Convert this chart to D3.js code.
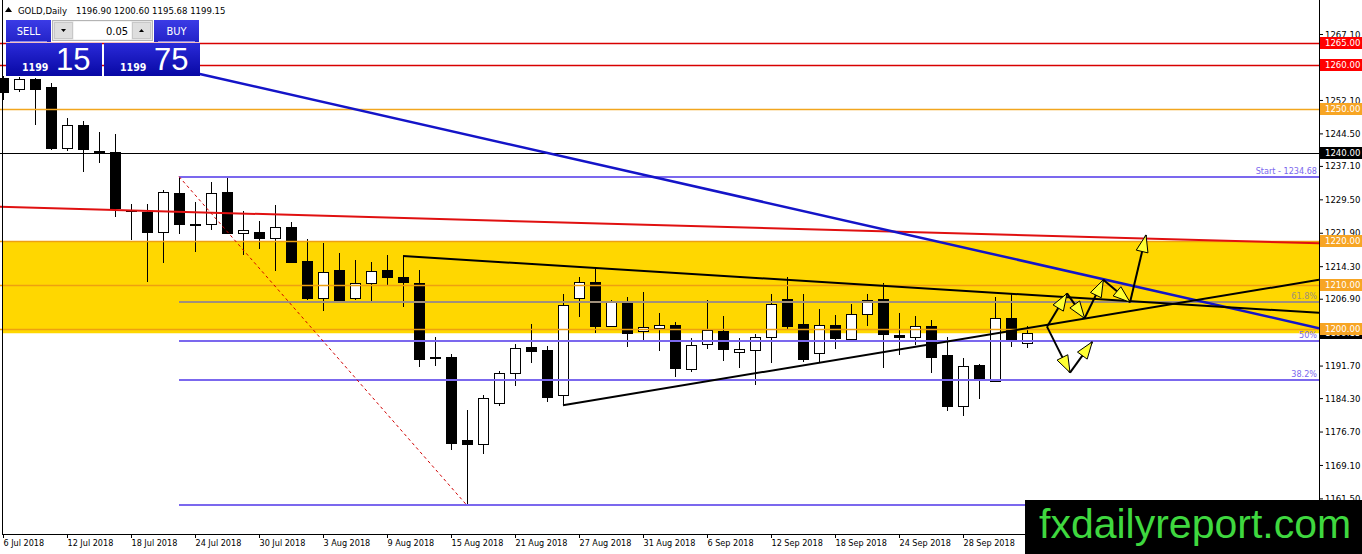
<!DOCTYPE html>
<html>
<head>
<meta charset="utf-8">
<title>GOLD, Daily</title>
<script src="https://cdnjs.cloudflare.com/ajax/libs/d3/7.8.5/d3.min.js"></script>
<style>
  html, body { margin: 0; padding: 0; background: #fff; overflow: hidden; }
  svg { display: block; font-family: "DejaVu Sans Condensed", "DejaVu Sans", sans-serif; font-stretch: condensed; }
</style>
</head>
<body>
<div id="chart"></div>
<script>

// daily candles, bar 0 = 6 Jul 2018, bar 64 = 4 Oct 2018
var opens  = [1257.1, 1254.6, 1256.9, 1255.1, 1241.1, 1246.4, 1240.4, 1240.2, 1227.0, 1226.6,
              1222.1, 1230.9, 1223.9, 1223.8, 1231.1, 1221.9, 1222.1, 1220.8, 1223.1, 1215.5,
              1207.1, 1213.4, 1207.0, 1210.4, 1213.4, 1211.8, 1210.4, 1193.6, 1193.7, 1174.8,
              1173.8, 1183.1, 1189.9, 1195.9, 1195.2, 1185.0, 1207.0, 1210.8, 1200.6, 1206.2,
              1199.6, 1200.2, 1200.9, 1190.9, 1196.6, 1199.6, 1194.7, 1195.2, 1198.1, 1206.8,
              1201.2, 1194.5, 1200.9, 1197.7, 1203.4, 1206.8, 1198.7, 1198.3, 1200.7, 1194.1,
              1182.4, 1191.8, 1188.2, 1202.6, 1196.90];
var highs  = [1257.6, 1257.3, 1257.1, 1256.0, 1247.9, 1247.3, 1244.9, 1244.4, 1228.4, 1228.4,
              1231.6, 1234.68, 1229.0, 1233.4, 1234.3, 1226.8, 1224.6, 1228.1, 1224.3, 1220.4,
              1219.6, 1217.4, 1215.7, 1215.3, 1216.8, 1216.6, 1213.4, 1198.1, 1194.3, 1181.6,
              1184.9, 1190.5, 1196.6, 1201.2, 1196.2, 1208.0, 1211.9, 1213.8, 1206.6, 1207.4,
              1208.5, 1203.6, 1201.7, 1197.9, 1206.6, 1203.0, 1197.9, 1198.9, 1208.0, 1211.9,
              1208.0, 1204.5, 1203.2, 1205.6, 1208.0, 1210.4, 1203.6, 1203.0, 1202.1, 1198.1,
              1193.4, 1192.1, 1207.2, 1207.9, 1200.60];
var lows   = [1252.1, 1253.9, 1246.4, 1240.7, 1240.6, 1235.8, 1237.7, 1225.4, 1220.3, 1210.8,
              1215.1, 1221.6, 1217.6, 1222.5, 1221.8, 1216.8, 1218.2, 1213.3, 1215.1, 1206.6,
              1204.0, 1206.5, 1206.6, 1205.9, 1210.0, 1205.1, 1191.3, 1191.5, 1172.5, 1159.9,
              1171.6, 1182.5, 1187.1, 1192.2, 1183.5, 1182.7, 1202.7, 1199.2, 1200.4, 1195.9,
              1197.5, 1195.1, 1189.2, 1190.3, 1195.4, 1192.8, 1191.1, 1187.3, 1192.2, 1199.8,
              1192.4, 1192.5, 1195.4, 1197.7, 1200.7, 1191.2, 1194.1, 1196.4, 1190.1, 1181.4,
              1180.3, 1184.1, 1188.1, 1196.0, 1195.68];
var closes = [1253.9, 1256.9, 1254.6, 1241.1, 1246.4, 1240.9, 1240.0, 1227.5, 1226.8, 1222.1,
              1231.1, 1223.8, 1223.7, 1230.9, 1221.9, 1222.5, 1220.8, 1223.1, 1215.3, 1207.1,
              1212.9, 1206.6, 1210.4, 1213.2, 1211.8, 1210.8, 1193.1, 1193.5, 1174.2, 1173.8,
              1184.3, 1189.9, 1195.6, 1194.9, 1184.6, 1205.5, 1210.6, 1200.6, 1206.2, 1199.2,
              1200.4, 1200.9, 1191.1, 1196.4, 1199.8, 1195.4, 1195.5, 1198.1, 1205.7, 1200.7,
              1193.1, 1200.9, 1197.9, 1203.4, 1206.5, 1198.8, 1198.1, 1200.7, 1193.7, 1182.4,
              1191.6, 1188.7, 1202.5, 1197.3, 1199.15];

// time axis
var dateBars   = [0, 4, 8, 12, 16, 20, 24, 28, 32, 36, 40, 44, 48, 52, 56, 60];
var dateLabels = ["6 Jul 2018", "12 Jul 2018", "18 Jul 2018", "24 Jul 2018", "30 Jul 2018",
                  "3 Aug 2018", "9 Aug 2018", "15 Aug 2018", "21 Aug 2018", "27 Aug 2018",
                  "31 Aug 2018", "6 Sep 2018", "12 Sep 2018", "18 Sep 2018", "24 Sep 2018",
                  "28 Sep 2018"];

// price axis
var priceTicks = [1267.10, 1259.50, 1252.10, 1244.50, 1237.10, 1229.50, 1221.90, 1214.30,
                  1206.90, 1199.30, 1191.70, 1184.30, 1176.70, 1169.10, 1161.50];

// horizontal levels and the support / resistance zone
var levelPrices = [1265.00, 1260.00, 1250.00, 1240.00, 1220.00, 1210.00, 1200.00];
var zonePrices  = [1199.05, 1220.00];

// fibo retracement, from the high of bar 11 to the low of bar 29
var fibBars    = [11, 29];
var fibPrices  = [1234.68, 1159.90];
var fibRatios  = [0.618, 0.5, 0.382];
var fibLabels  = ["61.8%", "50%", "38.2%"];

// trendlines, [bar, price]
var redTrend   = [[-0.19, 1227.8], [82.25, 1219.5]];
var blueTrend  = [[12.3, 1258.0], [82.25, 1200.2]];
var upperTrend = [[25, 1216.6], [82.25, 1203.7]];
var lowerTrend = [[35, 1182.7], [82.25, 1211.2]];

// projected paths, [bar, price]
var arrowsUp   = [[65.25, 1200.55], [66.5, 1208.1], [67.6, 1202.45], [68.77, 1211.2], [70.44, 1206.1], [71.44, 1221.4]];
var arrowsDown = [[65.25, 1200.55], [66.69, 1190.1], [68.08, 1197.1]];

// quote header and trade panel
var symbolName = "GOLD,Daily";
var quoteNow   = ["1196.90", "1200.60", "1195.68", "1199.15"];
var lotSize    = "0.05";
var bidPrice   = ["1199", "15"];
var askPrice   = ["1199", "75"];

var W = 1362, H = 554,
    plotRight = 1319, plotBottom = 534;

function initChart() {

    // set the ranges
    var x = d3.scaleLinear().domain([0, 82.25]).range([3, plotRight]);
    var y = d3.scaleLinear().domain([1153.4, 1274.83]).range([plotBottom, 0]);

    function px(v) { return Math.round(v) + 0.5; }

    var bars = opens.map(function(o, i) {
        return {i: i, o: o, h: highs[i], l: lows[i], c: closes[i]};
    });

    var svg = d3.select("#chart").append("svg")
        .attr("width", W)
        .attr("height", H);

    svg.append("rect").attr("width", W).attr("height", H).attr("fill", "#fff");

    svg.append("clipPath").attr("id", "plot")
      .append("rect").attr("x", 0).attr("y", 0).attr("width", plotRight).attr("height", plotBottom);

    var plot = svg.append("g").attr("clip-path", "url(#plot)");

    // yellow zone
    plot.append("rect")
        .attr("x", 3)
        .attr("y", y(zonePrices[1]))
        .attr("width", plotRight - 3)
        .attr("height", y(zonePrices[0]) - y(zonePrices[1]))
        .attr("fill", "#ffd700");

    // candles
    var cg = plot.append("g").attr("shape-rendering", "crispEdges");
    cg.selectAll(".wick")
        .data(bars)
        .enter().append("line")
        .attr("class", "wick")
        .attr("x1", function(d) { return px(x(d.i)); })
        .attr("x2", function(d) { return px(x(d.i)); })
        .attr("y1", function(d) { return Math.round(y(d.h)); })
        .attr("y2", function(d) { return Math.round(y(d.l)); })
        .attr("stroke", "#000");

    cg.selectAll(".body")
        .data(bars)
        .enter().append("rect")
        .attr("class", "body")
        .attr("x", function(d) { return Math.round(x(d.i)) - 5 + 0.5; })
        .attr("y", function(d) { return Math.round(y(Math.max(d.o, d.c))) + 0.5; })
        .attr("width", 10)
        .attr("height", function(d) {
            var h = Math.round(y(Math.min(d.o, d.c))) - Math.round(y(Math.max(d.o, d.c)));
            return Math.max(h, 1);
        })
        .attr("fill", function(d) { return d.c >= d.o ? "#fff" : "#000"; })
        .attr("stroke", "#000");

    // horizontal levels
    var levelLine = ["#d80000", "#d80000", "#f2a61e", "#000000", "#eea010", "#eea010", "#eea010"];
    var levelBox  = ["#ff0000", "#ff0000", "#f7a524", "#000000", "#f7a524", "#f7a524", "#f7a524"];

    plot.selectAll(".level")
        .data(levelPrices)
        .enter().append("line")
        .attr("class", "level")
        .attr("x1", 0)
        .attr("x2", plotRight)
        .attr("y1", function(d) { return Math.round(y(d)) + 0.5; })
        .attr("y2", function(d) { return Math.round(y(d)) + 0.5; })
        .attr("stroke", function(d, i) { return levelLine[i]; })
        .attr("stroke-width", function(d, i) { return i === 3 ? 1 : 1.5; });

    // fibo
    var fibRange = fibPrices[0] - fibPrices[1];
    var fibLevels = [{p: fibPrices[0], t: "Start - " + fibPrices[0].toFixed(2), c: "#7b68ee"}]
        .concat(fibRatios.map(function(r, i) {
            return {p: fibPrices[1] + r * fibRange, t: fibLabels[i], c: r > 0.6 ? "#a0907c" : "#7b68ee"};
        }))
        .concat([{p: fibPrices[1], t: "", c: "#7b68ee"}]);

    plot.selectAll(".fib")
        .data(fibLevels)
        .enter().append("line")
        .attr("class", "fib")
        .attr("x1", x(fibBars[0]))
        .attr("x2", plotRight)
        .attr("y1", function(d) { return Math.round(y(d.p)); })
        .attr("y2", function(d) { return Math.round(y(d.p)); })
        .attr("stroke", function(d) { return d.c; })
        .attr("stroke-width", 2);

    plot.selectAll(".fibText")
        .data(fibLevels)
        .enter().append("text")
        .attr("class", "fibText")
        .attr("x", plotRight - 2)
        .attr("y", function(d) { return Math.round(y(d.p)) - 3; })
        .attr("text-anchor", "end")
        .attr("font-size", 9)
        .attr("fill", function(d) { return d.c; })
        .text(function(d) { return d.t; });

    plot.append("line")
        .attr("x1", x(fibBars[0])).attr("y1", y(fibPrices[0]))
        .attr("x2", x(fibBars[1])).attr("y2", y(fibPrices[1]))
        .attr("stroke", "#d00000")
        .attr("stroke-dasharray", "3,3");

    // define the trendlines
    var line = d3.line()
        .x(function(d) { return x(d[0]); })
        .y(function(d) { return y(d[1]); });

    plot.append("path").datum(redTrend).attr("d", line)
        .attr("fill", "none").attr("stroke", "#e01010").attr("stroke-width", 2);
    plot.append("path").datum(blueTrend).attr("d", line)
        .attr("fill", "none").attr("stroke", "#1414c8").attr("stroke-width", 2.5);
    plot.append("path").datum(upperTrend).attr("d", line)
        .attr("fill", "none").attr("stroke", "#000").attr("stroke-width", 2);
    plot.append("path").datum(lowerTrend).attr("d", line)
        .attr("fill", "none").attr("stroke", "#000").attr("stroke-width", 2);

    // arrows
    drawArrows(plot, arrowsUp.map(function(d) { return [x(d[0]), y(d[1])]; }));
    drawArrows(plot, arrowsDown.map(function(d) { return [x(d[0]), y(d[1])]; }));

    // axis frame
    svg.append("line").attr("x1", 2.5).attr("x2", 2.5).attr("y1", 0).attr("y2", plotBottom).attr("stroke", "#000");
    svg.append("line").attr("x1", plotRight + 0.5).attr("x2", plotRight + 0.5).attr("y1", 0).attr("y2", plotBottom).attr("stroke", "#000");
    svg.append("line").attr("x1", 2).attr("x2", plotRight + 1).attr("y1", plotBottom + 0.5).attr("y2", plotBottom + 0.5).attr("stroke", "#000");

    // add the Y Axis
    var gy = svg.append("g")
        .attr("transform", "translate(" + plotRight + ",0)")
        .call(d3.axisRight(y)
            .tickValues(priceTicks)
            .tickSize(4)
            .tickSizeOuter(0)
            .tickFormat(d3.format(".2f")));
    gy.select(".domain").remove();
    gy.selectAll("text")
        .attr("x", 6)
        .attr("fill", "#000")
        .attr("font-family", "'DejaVu Sans Condensed', 'DejaVu Sans', sans-serif")
        .attr("font-size", 9.5);

    // add the X Axis
    var gx = svg.append("g")
        .attr("transform", "translate(0," + plotBottom + ")")
        .call(d3.axisBottom(x)
            .tickValues(dateBars)
            .tickSize(4)
            .tickSizeOuter(0)
            .tickFormat(function(d, i) { return dateLabels[i]; }));
    gx.select(".domain").remove();
    gx.selectAll("text")
        .attr("text-anchor", "start")
        .attr("x", 0)
        .attr("y", 6)
        .attr("fill", "#000")
        .attr("font-family", "'DejaVu Sans Condensed', 'DejaVu Sans', sans-serif")
        .attr("font-size", 9);

    // price labels on the axis, current price under the levels
    var boxes = [{p: closes[closes.length - 1], c: "#000"}]
        .concat(levelPrices.map(function(p, i) { return {p: p, c: levelBox[i]}; }));

    var lg = svg.selectAll(".plabel")
        .data(boxes)
        .enter().append("g")
        .attr("class", "plabel")
        .attr("transform", function(d) { return "translate(" + (plotRight + 1) + "," + Math.round(y(d.p)) + ")"; });
    lg.append("rect")
        .attr("x", 0).attr("y", -6)
        .attr("width", W - plotRight - 1).attr("height", 12)
        .attr("fill", function(d) { return d.c; });
    lg.append("text")
        .attr("x", 5).attr("dy", "0.35em")
        .attr("fill", "#fff")
        .attr("font-size", 9.5)
        .text(function(d) { return d.p.toFixed(2); });

    drawHeader(svg);
    drawPanel(svg);

    // watermark
    svg.append("rect")
        .attr("x", 1025).attr("y", 500).attr("width", W - 1025).attr("height", H - 500)
        .attr("fill", "#000");
    svg.append("text")
        .attr("x", 1039).attr("y", 538)
        .attr("font-family", "'Liberation Sans', Arial, sans-serif")
        .attr("font-size", 41)
        .attr("fill", "#3fd83f")
        .text("fxdailyreport.com");
}

// black shaft with a yellow head on every leg
function drawArrows(g, pts) {
    for (var i = 1; i < pts.length; i++) {
        var a = pts[i - 1], b = pts[i];
        var dx = b[0] - a[0], dy = b[1] - a[1];
        var len = Math.sqrt(dx * dx + dy * dy);
        var ux = dx / len, uy = dy / len;
        var bx = b[0] - ux * 17, by = b[1] - uy * 17;
        g.append("line")
            .attr("x1", a[0]).attr("y1", a[1])
            .attr("x2", b[0]).attr("y2", b[1])
            .attr("stroke", "#000").attr("stroke-width", 2);
        g.append("path")
            .attr("d", "M" + b[0] + "," + b[1] +
                       "L" + (bx - uy * 6) + "," + (by + ux * 6) +
                       "L" + (bx + uy * 6) + "," + (by - ux * 6) + "Z")
            .attr("fill", "#ffff33")
            .attr("stroke", "#000")
            .attr("stroke-width", 1);
    }
}

function drawHeader(svg) {
    svg.append("path").attr("d", "M5,12L8.5,7L12,12Z").attr("fill", "#000");
    var t = svg.append("text")
        .attr("x", 18).attr("y", 14)
        .attr("font-size", 9.5)
        .attr("fill", "#000");
    t.append("tspan").text(symbolName);
    t.append("tspan").attr("x", 76).text(quoteNow.join(" "));
}

function drawPanel(svg) {
    var defs = svg.append("defs");
    var gb = defs.append("linearGradient").attr("id", "btn").attr("x1", 0).attr("x2", 0).attr("y1", 0).attr("y2", 1);
    gb.append("stop").attr("offset", 0).attr("stop-color", "#3b3be6");
    gb.append("stop").attr("offset", 1).attr("stop-color", "#2323c8");
    var gp = defs.append("linearGradient").attr("id", "price").attr("x1", 0).attr("x2", 0).attr("y1", 0).attr("y2", 1);
    gp.append("stop").attr("offset", 0).attr("stop-color", "#2a2ad8");
    gp.append("stop").attr("offset", 1).attr("stop-color", "#0808a4");

    var p = svg.append("g").attr("class", "panel");

    // sell / buy buttons
    [[6, "SELL"], [154, "BUY"]].forEach(function(b) {
        p.append("rect").attr("x", b[0]).attr("y", 20).attr("width", 45).attr("height", 22).attr("fill", "url(#btn)");
        p.append("line").attr("x1", b[0] + 4).attr("x2", b[0] + 41).attr("y1", 41.5).attr("y2", 41.5)
            .attr("stroke", "#8a8af0");
        p.append("text").attr("x", b[0] + 22.5).attr("y", 35).attr("text-anchor", "middle")
            .attr("font-family", "'DejaVu Sans', sans-serif").attr("font-size", 11)
            .attr("fill", "#fff").text(b[1]);
    });

    // lot spinner
    p.append("rect").attr("x", 52.5).attr("y", 20.5).attr("width", 100).attr("height", 20)
        .attr("fill", "#e6e6e6").attr("stroke", "#b4b4b4");
    p.append("rect").attr("x", 54.5).attr("y", 22.5).attr("width", 18).attr("height", 16)
        .attr("fill", "#dedede").attr("stroke", "#c8c8c8");
    p.append("rect").attr("x", 132.5).attr("y", 22.5).attr("width", 18).attr("height", 16)
        .attr("fill", "#dedede").attr("stroke", "#c8c8c8");
    p.append("rect").attr("x", 73.5).attr("y", 21.5).attr("width", 58).attr("height", 18)
        .attr("fill", "#fff");
    p.append("path").attr("d", "M61,29L66,29L63.5,32Z").attr("fill", "#000");
    p.append("path").attr("d", "M139,32L144,32L141.5,29Z").attr("fill", "#000");
    p.append("text").attr("x", 128).attr("y", 35).attr("text-anchor", "end")
        .attr("font-family", "'DejaVu Sans', sans-serif").attr("font-size", 11)
        .attr("fill", "#000").text(lotSize);

    // price boxes
    [[6, bidPrice], [104, askPrice]].forEach(function(b) {
        p.append("rect").attr("x", b[0]).attr("y", 43).attr("width", 96).attr("height", 33).attr("fill", "url(#price)");
        p.append("text").attr("x", b[0] + 16).attr("y", 71)
            .attr("font-family", "'DejaVu Sans', sans-serif").attr("font-weight", "bold").attr("font-size", 10.5)
            .attr("fill", "#fff").text(b[1][0]);
        p.append("text").attr("x", b[0] + 50).attr("y", 70)
            .attr("font-family", "'Liberation Sans', Arial, sans-serif").attr("font-size", 31)
            .attr("fill", "#fff").text(b[1][1]);
    });
}

initChart();

</script>
</body>
</html>
